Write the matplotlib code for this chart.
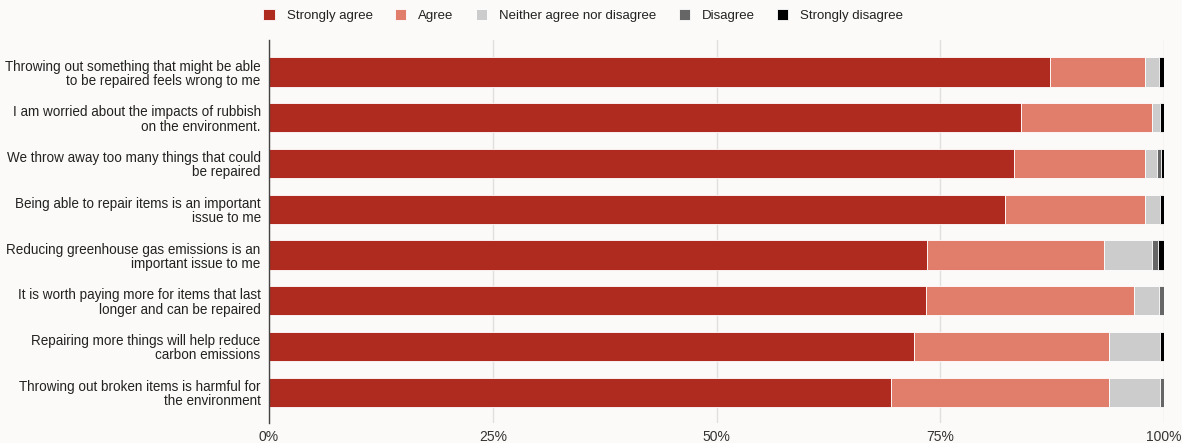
import matplotlib.pyplot as plt
import numpy as np

plt.rcParams['font.family'] = ['Liberation Sans', 'DejaVu Sans']

statements = [
    "Throwing out something that might be able\nto be repaired feels wrong to me",
    "I am worried about the impacts of rubbish\non the environment.",
    "We throw away too many things that could\nbe repaired",
    "Being able to repair items is an important\nissue to me",
    "Reducing greenhouse gas emissions is an\nimportant issue to me",
    "It is worth paying more for items that last\nlonger and can be repaired",
    "Repairing more things will help reduce\ncarbon emissions",
    "Throwing out broken items is harmful for\nthe environment",
]

responses = ["Strongly agree", "Agree", "Neither agree nor disagree", "Disagree", "Strongly disagree"]

# percentages per statement, one list per response
strongly_agree = [87.3, 84.0, 83.2, 82.2, 73.5, 73.4, 72.1, 69.5]
agree = [10.6, 14.7, 14.7, 15.7, 19.8, 23.2, 21.8, 24.4]
neither = [1.5, 0.9, 1.3, 1.7, 5.3, 2.8, 5.7, 5.7]
disagree = [0.0, 0.0, 0.5, 0.0, 0.7, 0.6, 0.0, 0.4]
strongly_disagree = [0.6, 0.4, 0.3, 0.4, 0.7, 0.0, 0.4, 0.0]

colours = ["#b02b1f", "#e07e6b", "#cccccc", "#666666", "#000000"]
bg = "#fbfaf8"

fig = plt.figure(figsize=(11.82, 4.43), dpi=100, facecolor=bg)
ax = fig.add_axes([0.2276, 0.0451, 0.7572, 0.8646], facecolor=bg)

y = np.arange(len(statements))
left = np.zeros(len(statements))
for name, vals, col in zip(responses,
                           [strongly_agree, agree, neither, disagree, strongly_disagree],
                           colours):
    vals = np.array(vals)
    ax.barh(y, vals, left=left, height=0.64, color=col, edgecolor="white",
            linewidth=0.6, label=name, zorder=3)
    left += vals

ax.set_xlim(0, 100)
ax.set_ylim(len(statements) - 1 + 0.67, -0.70)
ax.set_yticks(y)
ax.set_yticklabels(statements, fontsize=9.75, color="#222222", linespacing=1.03)
ax.set_xticks([0, 25, 50, 75, 100])
ax.set_xticklabels(["0%", "25%", "50%", "75%", "100%"], fontsize=10, color="#333333")
ax.tick_params(axis="y", length=0, pad=6)
ax.tick_params(axis="x", length=0, pad=5)
ax.grid(axis="x", color="#e0e0e0", linewidth=1, zorder=0)

for side in ["top", "right", "bottom"]:
    ax.spines[side].set_visible(False)
ax.spines["left"].set_color("#444444")
ax.spines["left"].set_linewidth(1)
ax.spines["left"].set_zorder(4)

fig.legend(loc="upper center", bbox_to_anchor=(0.4935, 1.006), ncol=5, frameon=False,
           fontsize=9.5, handlelength=0.85, handleheight=0.85, handletextpad=0.9,
           columnspacing=1.7, labelcolor="#222222")

fig.savefig("out.png", dpi=100, facecolor=bg)
